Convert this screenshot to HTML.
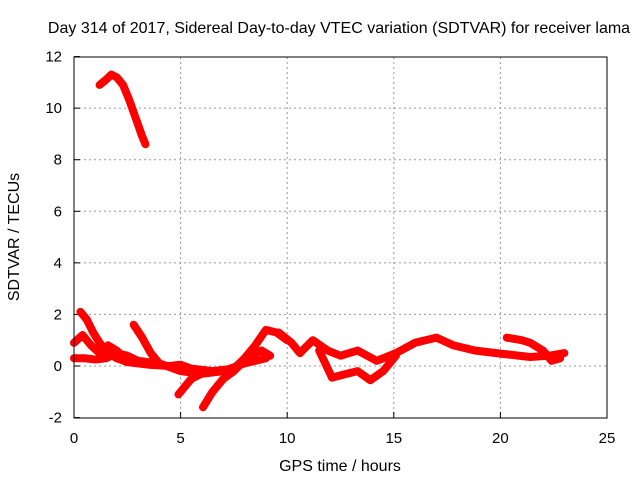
<!DOCTYPE html>
<html><head><meta charset="utf-8"><style>
body{margin:0;background:#fff}
svg text{font-family:"Liberation Sans",sans-serif;font-size:15px;fill:#000}
</style></head><body>
<svg id="c" width="640" height="480">
<rect width="640" height="480" fill="#fff"/>
<text x="339" y="33" text-anchor="middle" style="font-size:16px">Day 314 of 2017, Sidereal Day-to-day VTEC variation (SDTVAR) for receiver lama</text>
<text x="340" y="471" text-anchor="middle" style="font-size:16px">GPS time / hours</text>
<text transform="translate(19,237) rotate(-90)" text-anchor="middle" style="font-size:16px">SDTVAR / TECUs</text>
<g id="grid"></g><g id="marks"></g>
<rect x="74" y="57" width="533" height="361" fill="none" stroke="#000" stroke-width="1"/>
</svg>
<script>
const xTicks=[0,5,10,15,20,25];
const yTicks=[-2,0,2,4,6,8,10,12];
const s1=[[1.2,10.9],[1.5,11.1],[1.75,11.3],[2.0,11.2],[2.3,10.9],[2.6,10.3],[2.9,9.6],[3.2,8.9],[3.35,8.6]];
const s2=[[0.3,2.1],[0.6,1.8],[0.9,1.3],[1.2,0.9],[1.6,0.5],[2.0,0.3],[2.5,0.15],[3.5,0.05],[4.5,0],[5.0,0.05],[5.5,-0.1],[6.5,-0.2],[7.5,-0.1],[8.0,0.3],[8.5,0.8],[9.0,1.4],[9.5,1.3],[10.0,1.0]];
const s3=[[0,0.3],[0.5,0.3],[1.0,0.25],[1.5,0.3],[2.0,0.5],[2.5,0.4],[3.0,0.2],[4.0,0.1],[5.0,-0.2],[6.0,-0.3],[7.0,-0.2],[8.0,0.1],[9.0,0.3]];
const s4=[[0,0.9],[0.4,1.2],[0.8,0.8],[1.2,0.5],[1.6,0.8],[2.0,0.6],[2.4,0.3],[2.9,0.15]];
const s5=[[2.8,1.6],[3.2,1.1],[3.6,0.5],[4.0,0.1]];
const s6=[[4.9,-1.1],[5.5,-0.5],[6.2,-0.2]];
const s7=[[6.05,-1.6],[6.5,-1.0],[7.0,-0.5],[7.5,-0.2],[8.2,0.4],[8.8,0.6],[9.2,0.4]];
const s8=[[9.6,1.3],[10.2,0.9],[10.6,0.5],[11.2,1.0],[11.9,0.6],[12.5,0.4],[13.3,0.6],[14.2,0.2],[15.1,0.5],[16.0,0.9],[17.0,1.1],[17.8,0.8],[18.8,0.6],[19.8,0.5],[21.4,0.35],[22.3,0.4],[23.0,0.5]];
const s9=[[11.5,0.6],[12.1,-0.45],[12.8,-0.3],[13.3,-0.2],[13.9,-0.55],[14.5,-0.2],[15.1,0.4]];
const s10=[[20.3,1.1],[21.0,1.0],[21.4,0.9],[22.0,0.6],[22.4,0.2],[22.8,0.3]];
const series=[s1,s2,s3,s4,s5,s6,s7,s8,s9,s10];
const X=h=>74+h*533/25, Y=v=>366-v*361/14;
const NS="http://www.w3.org/2000/svg";
const g=document.getElementById('grid'), m=document.getElementById('marks');
xTicks.forEach(t=>{
 if(t>0&&t<25){const l=document.createElementNS(NS,'line');l.setAttribute('x1',X(t));l.setAttribute('x2',X(t));l.setAttribute('y1',57);l.setAttribute('y2',418);l.setAttribute('stroke','#999');l.setAttribute('stroke-dasharray','2,3');
 
 g.appendChild(l);}
 const k=document.createElementNS(NS,'line');k.setAttribute('x1',X(t));k.setAttribute('x2',X(t));k.setAttribute('y1',418);k.setAttribute('y2',412);k.setAttribute('stroke','#000');g.appendChild(k);
 const tx=document.createElementNS(NS,'text');tx.setAttribute('x',X(t));tx.setAttribute('y',443);tx.setAttribute('text-anchor','middle');tx.textContent=t;
 
 g.appendChild(tx);
});
yTicks.forEach(t=>{
 if(t>-2&&t<12){const l=document.createElementNS(NS,'line');l.setAttribute('x1',74);l.setAttribute('x2',607);l.setAttribute('y1',Y(t));l.setAttribute('y2',Y(t));l.setAttribute('stroke','#999');l.setAttribute('stroke-dasharray','2,3');
 
 g.appendChild(l);}
 const k=document.createElementNS(NS,'line');k.setAttribute('x1',74);k.setAttribute('x2',80);k.setAttribute('y1',Y(t));k.setAttribute('y2',Y(t));k.setAttribute('stroke','#000');g.appendChild(k);
 const tx=document.createElementNS(NS,'text');tx.setAttribute('x',62);tx.setAttribute('y',Y(t)+5);tx.setAttribute('text-anchor','end');tx.textContent=t;
 
 g.appendChild(tx);
});
series.forEach((s,i)=>{
 const p=document.createElementNS(NS,'polyline');
 p.setAttribute('points',s.map(d=>X(d[0])+','+Y(d[1])).join(' '));
 p.setAttribute('fill','none');p.setAttribute('stroke','#f00');p.setAttribute('stroke-width','8');p.setAttribute('stroke-linejoin','round');p.setAttribute('stroke-linecap','round');
 
 
 m.appendChild(p);
});
</script>
</body></html>
